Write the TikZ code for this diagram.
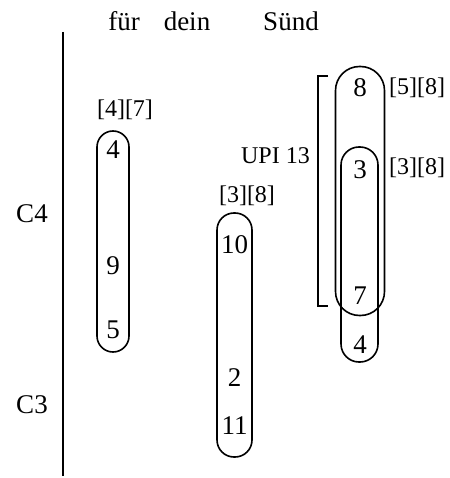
\documentclass[tikz,border=0pt]{standalone}
\usepackage{fontspec}
\setmainfont{Liberation Serif}
\begin{document}
\begin{tikzpicture}[x=1pt,y=-1pt,
  lw/.style={line width=1.6pt},
  pill/.style={draw, lw, rounded corners=#1, inner sep=0pt},
  num/.style={font=\fontsize{27}{27}\selectfont, inner sep=0pt},
  lab/.style={font=\fontsize{24}{24}\selectfont, inner sep=0pt},
  head/.style={font=\fontsize{27}{27}\selectfont, inner sep=0pt, anchor=base}]
\useasboundingbox (0,0) rectangle (449,478);
% axis
\coordinate (axtop) at (63,32);
\coordinate (axbot) at (63,476);
\draw[lw] (axtop) -- (axbot);
% header
\node[head] (fur) at (124,31) {für};
\node[head] (dein) at (187,31) {dein};
\node[head] (sund) at (291,31) {Sünd};
\node[num] (c4) at (32,214) {C4};
\node[num] (c3) at (32,405) {C3};
% box 1
\node[pill=16pt, minimum width=32pt, minimum height=221pt] (b1) at (113,241.5) {};
\node[num] (n4a) at (113,150) {4};
\node[num] (n9) at (113,266) {9};
\node[num] (n5) at (113,330) {5};
\node[lab] (l47) at (125,110) {[4][7]};
% box 2
\node[pill=17pt, minimum width=35pt, minimum height=244pt] (b2) at (234.5,335) {};
\node[num] (n10) at (234.5,245) {10};
\node[num] (n2) at (234.5,378) {2};
\node[num] (n11) at (234.5,426) {11};
\node[lab] (l38a) at (247,196) {[3][8]};
% right group
\node[pill=24pt, minimum width=49pt, minimum height=249pt] (big) at (360,191) {};
\node[pill=18pt, minimum width=37pt, minimum height=215pt] (inner) at (359.5,254.5) {};
\node[num] (n8) at (360,88) {8};
\node[num] (n3) at (360,170) {3};
\node[num] (n7) at (360,296) {7};
\node[num] (n4b) at (360,345) {4};
\node[lab] (l58) at (417,88) {[5][8]};
\node[lab] (l38b) at (417,168) {[3][8]};
% bracket
\coordinate (bt) at (328,76);
\coordinate (bb) at (328,306);
\draw[lw] (bt) -- ++(-10,0) |- (bb);
\node[lab, anchor=east] (upi) at (310,156) {UPI 13};
\end{tikzpicture}
\end{document}
